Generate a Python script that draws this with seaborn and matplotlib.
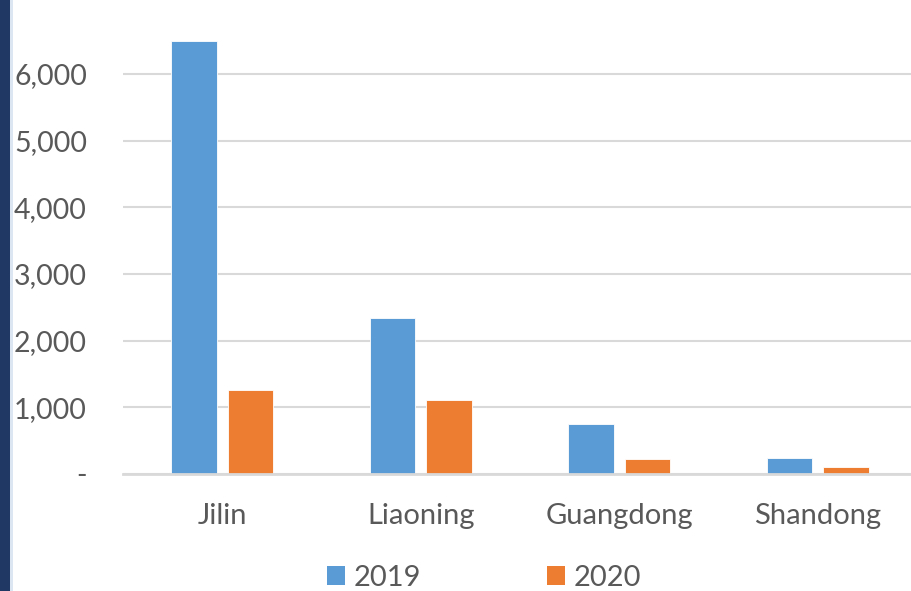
import pandas as pd
import matplotlib.pyplot as plt
import seaborn as sns
from matplotlib.patches import Rectangle, Patch

provinces = ["Jilin", "Liaoning", "Guangdong", "Shandong"]
years = ["2019", "2020"]
values_2019 = [6500, 2340, 750, 240]
values_2020 = [1265, 1110, 230, 105]
y_ticks = [0, 1000, 2000, 3000, 4000, 5000, 6000]
y_tick_labels = ["-", "1,000", "2,000", "3,000", "4,000", "5,000", "6,000"]

colors = {"2019": "#5B9BD5", "2020": "#ED7D31"}
text_color = "#595959"

# long-form table for seaborn
data = pd.DataFrame({
    "Province": provinces * 2,
    "Year": ["2019"] * len(provinces) + ["2020"] * len(provinces),
    "Value": values_2019 + values_2020,
})

sns.set_style("white")
plt.rcParams["font.family"] = ["Lato", "DejaVu Sans"]

fig = plt.figure(figsize=(9.12, 5.91), dpi=100)
W, H = 912, 591
ax = fig.add_axes([123 / W, (H - 474) / H, 794 / W, 474 / H])

sns.barplot(data=data, x="Province", y="Value", hue="Year", order=provinces,
            hue_order=years, palette=colors, saturation=1, width=0.57, gap=0.2,
            edgecolor="white", linewidth=0.6, ax=ax, legend=False)

ax.set_xlim(-0.5, 3.5)
ax.set_ylim(0, 7110)
ax.set_yticks(y_ticks)
ax.set_yticklabels(y_tick_labels)
ax.yaxis.grid(True, color="#D9D9D9", linewidth=1.5)
ax.set_axisbelow(True)
for side in ["top", "right", "left"]:
    ax.spines[side].set_visible(False)
ax.spines["bottom"].set_color("#D9D9D9")
ax.spines["bottom"].set_linewidth(2)
ax.tick_params(axis="y", length=0, pad=26, labelsize=20.5, labelcolor=text_color)
ax.tick_params(axis="x", length=0, pad=21, labelsize=21, labelcolor=text_color)
ax.set_xlabel("")
ax.set_ylabel("")

# legend at the bottom
handles = [Patch(facecolor=colors[y], edgecolor="none") for y in years]
fig.legend(handles, years, loc="center", bbox_to_anchor=(484 / W, (H - 578) / H),
           ncol=2, frameon=False, fontsize=21, labelcolor=text_color,
           handlelength=0.62, handleheight=0.62, handletextpad=0.3,
           columnspacing=4.3)

# dark stripe on the left edge
fig.patches.append(Rectangle((0, 0), 10 / W, 1, transform=fig.transFigure,
                             facecolor="#1F3864", edgecolor="none", zorder=5))
fig.patches.append(Rectangle((10 / W, 0), 3 / W, 1, transform=fig.transFigure,
                             facecolor="#DCE6F2", edgecolor="none", zorder=5))

fig.savefig("out.png", dpi=100)
